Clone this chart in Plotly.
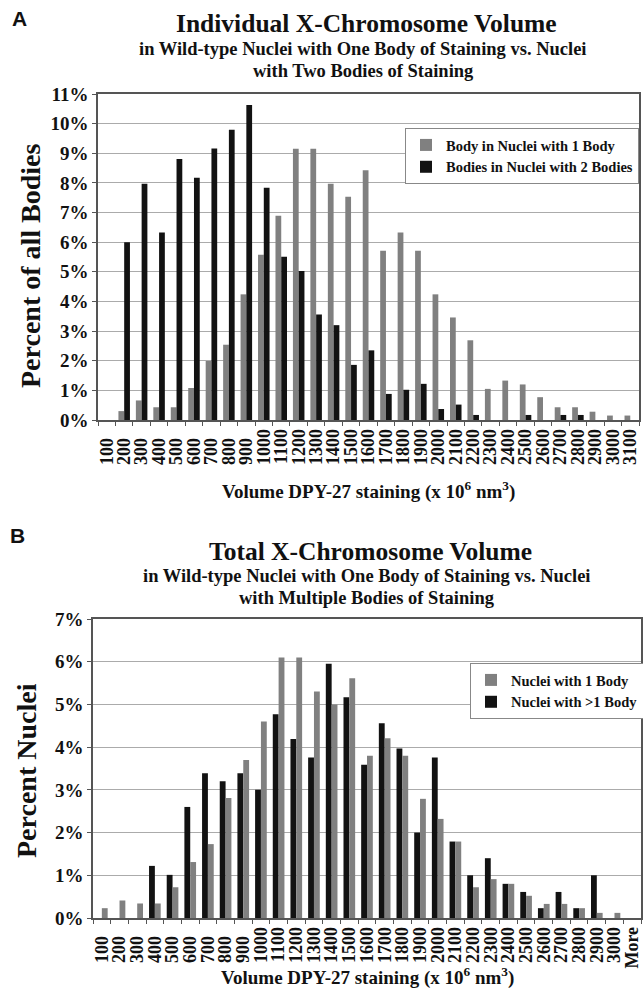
import plotly.graph_objects as go

W, H = 643, 992

cats_a = ["100", "200", "300", "400", "500", "600", "700", "800", "900", "1000",
          "1100", "1200", "1300", "1400", "1500", "1600", "1700", "1800", "1900", "2000",
          "2100", "2200", "2300", "2400", "2500", "2600", "2700", "2800", "2900", "3000", "3100"]
one_body_a = [0, 0.3, 0.66, 0.43, 0.43, 1.08, 1.99, 2.54, 4.24, 5.58,
              6.89, 9.15, 9.15, 7.97, 7.53, 8.43, 5.71, 6.33, 5.71, 4.24,
              3.46, 2.69, 1.05, 1.33, 1.2, 0.77, 0.43, 0.43, 0.28, 0.15, 0.15]
two_bodies_a = [0, 6.0, 7.97, 6.33, 8.81, 8.17, 9.16, 9.79, 10.63, 7.84,
                5.51, 5.03, 3.56, 3.2, 1.86, 2.35, 0.88, 1.02, 1.22, 0.37,
                0.52, 0.17, 0, 0, 0.17, 0, 0.17, 0.17, 0, 0, 0]

cats_b = ["100", "200", "300", "400", "500", "600", "700", "800", "900", "1000",
          "1100", "1200", "1300", "1400", "1500", "1600", "1700", "1800", "1900", "2000",
          "2100", "2200", "2300", "2400", "2500", "2600", "2700", "2800", "2900", "3000", "More"]
multi_b = [0, 0, 0, 1.22, 1.01, 2.6, 3.39, 3.2, 3.39, 3.0,
           4.77, 4.19, 3.76, 5.95, 5.17, 3.59, 4.56, 3.97, 2.0, 3.76,
           1.79, 1.0, 1.4, 0.8, 0.61, 0.23, 0.61, 0.23, 1.0, 0, 0]
one_b = [0.23, 0.41, 0.34, 0.34, 0.72, 1.31, 1.73, 2.81, 3.7, 4.6,
         6.1, 6.1, 5.3, 5.0, 5.61, 3.8, 4.21, 3.8, 2.79, 2.32,
         1.79, 0.72, 0.91, 0.8, 0.52, 0.33, 0.33, 0.23, 0.12, 0.12, 0]

yticks_a = [0, 1, 2, 3, 4, 5, 6, 7, 8, 9, 10, 11]
yticks_b = [0, 1, 2, 3, 4, 5, 6, 7]
ylabels_a = [f"{v}%" for v in yticks_a]
ylabels_b = [f"{v}%" for v in yticks_b]

GRAY = "#808080"
BLACK = "#121212"
SERIF = "Liberation Serif"
FIGSP = "\u2007"


def pad_label(c):
    # Excel-style: rotated labels share a common start, so short labels sit lower
    return c + FIGSP if len(c) == 3 else c


xlabels_a = [pad_label(c) for c in cats_a]
xlabels_b = [pad_label(c) for c in cats_b]


def px_x(p):
    return p / W


def px_y(p):
    return 1 - p / H


fig = go.Figure()
fig.add_trace(go.Bar(x=cats_a, y=one_body_a, name="Body in Nuclei with 1 Body",
                     marker=dict(color=GRAY, line=dict(width=0)), xaxis="x", yaxis="y", legend="legend"))
fig.add_trace(go.Bar(x=cats_a, y=two_bodies_a, name="Bodies in Nuclei with 2 Bodies",
                     marker=dict(color=BLACK, line=dict(width=0)), xaxis="x", yaxis="y", legend="legend"))
fig.add_trace(go.Bar(x=cats_b, y=multi_b, name="Nuclei with >1 Body",
                     marker=dict(color=BLACK, line=dict(width=0)), xaxis="x2", yaxis="y2", legend="legend2"))
fig.add_trace(go.Bar(x=cats_b, y=one_b, name="Nuclei with 1 Body",
                     marker=dict(color=GRAY, line=dict(width=0)), xaxis="x2", yaxis="y2", legend="legend2"))

tickfont = dict(family=SERIF, size=19, color="#111", weight="bold")
xtickfont = dict(family=SERIF, size=18, color="#111", weight="bold")

common_x = dict(type="category", tickangle=-90, tickfont=xtickfont, showgrid=False,
                showline=True, linecolor="#555", linewidth=1.5, mirror=True, automargin=False,
                ticks="outside", ticklen=4, tickcolor="#555", tickson="boundaries")
common_y = dict(tickfont=tickfont, showgrid=True, gridcolor="#ababab", gridwidth=1,
                showline=True, linecolor="#555", linewidth=1.5, mirror=True, zeroline=False,
                automargin=False, ticks="outside", ticklen=4, tickcolor="#555")

fig.update_layout(
    width=W, height=H,
    margin=dict(l=0, r=0, t=0, b=0, autoexpand=False),
    paper_bgcolor="white", plot_bgcolor="white",
    barmode="group", bargap=0.34, bargroupgap=0.0,
    showlegend=True,
    xaxis=dict(domain=[px_x(98), px_x(639)], anchor="y",
               tickmode="array", tickvals=cats_a, ticktext=xlabels_a, **common_x),
    yaxis=dict(domain=[px_y(420), px_y(94)], anchor="x", range=[0, 11],
               tickmode="array", tickvals=yticks_a, ticktext=ylabels_a, **common_y),
    xaxis2=dict(domain=[px_x(93), px_x(641)], anchor="y2",
                tickmode="array", tickvals=cats_b, ticktext=xlabels_b, **common_x),
    yaxis2=dict(domain=[px_y(918), px_y(619)], anchor="x2", range=[0, 7],
                tickmode="array", tickvals=yticks_b, ticktext=ylabels_b, **common_y),
    legend=dict(x=px_x(405), y=px_y(128), xanchor="left", yanchor="top",
                bgcolor="white", bordercolor="#888", borderwidth=1,
                font=dict(family=SERIF, size=14.5, color="#111", weight="bold"),
                itemwidth=30, tracegroupgap=0, traceorder="normal"),
    legend2=dict(x=px_x(470), y=px_y(663), xanchor="left", yanchor="top",
                 bgcolor="white", bordercolor="#888", borderwidth=1,
                 font=dict(family=SERIF, size=14.5, color="#111", weight="bold"),
                 itemwidth=30, tracegroupgap=0, traceorder="reversed"),
)

ann = []


def add_text(text, x, y, size, family=SERIF, angle=0, xanchor="center"):
    ann.append(dict(text=text, x=px_x(x), y=px_y(y), xref="paper", yref="paper",
                    showarrow=False, xanchor=xanchor, yanchor="middle", textangle=angle,
                    font=dict(family=family, size=size, color="#111", weight="bold")))


add_text("A", 10, 18, 21, family="Liberation Sans", xanchor="left")
add_text("Individual X-Chromosome Volume", 366, 24, 25.5)
add_text("in Wild-type Nuclei with One Body of Staining vs. Nuclei", 363, 49, 18.5)
add_text("with Two Bodies of Staining", 363, 71, 18.5)
add_text("Percent of all Bodies", 31, 266, 28, angle=-90)
add_text("Volume DPY-27 staining (x 10<sup>6</sup> nm<sup>3</sup>)", 368, 491, 19)

add_text("B", 8, 535, 21, family="Liberation Sans", xanchor="left")
add_text("Total X-Chromosome Volume", 370, 551, 25.5)
add_text("in Wild-type Nuclei with One Body of Staining vs. Nuclei", 367, 576, 18.5)
add_text("with Multiple Bodies of Staining", 367, 598, 18.5)
add_text("Percent Nuclei", 26, 771, 28, angle=-90)
add_text("Volume DPY-27 staining (x 10<sup>6</sup> nm<sup>3</sup>)", 367, 976, 19)

fig.update_layout(annotations=ann)

fig.write_html(
    "out.html",
    config={"displayModeBar": False},
    post_script="document.body.style.margin='0';document.body.style.overflow='hidden';",
)
